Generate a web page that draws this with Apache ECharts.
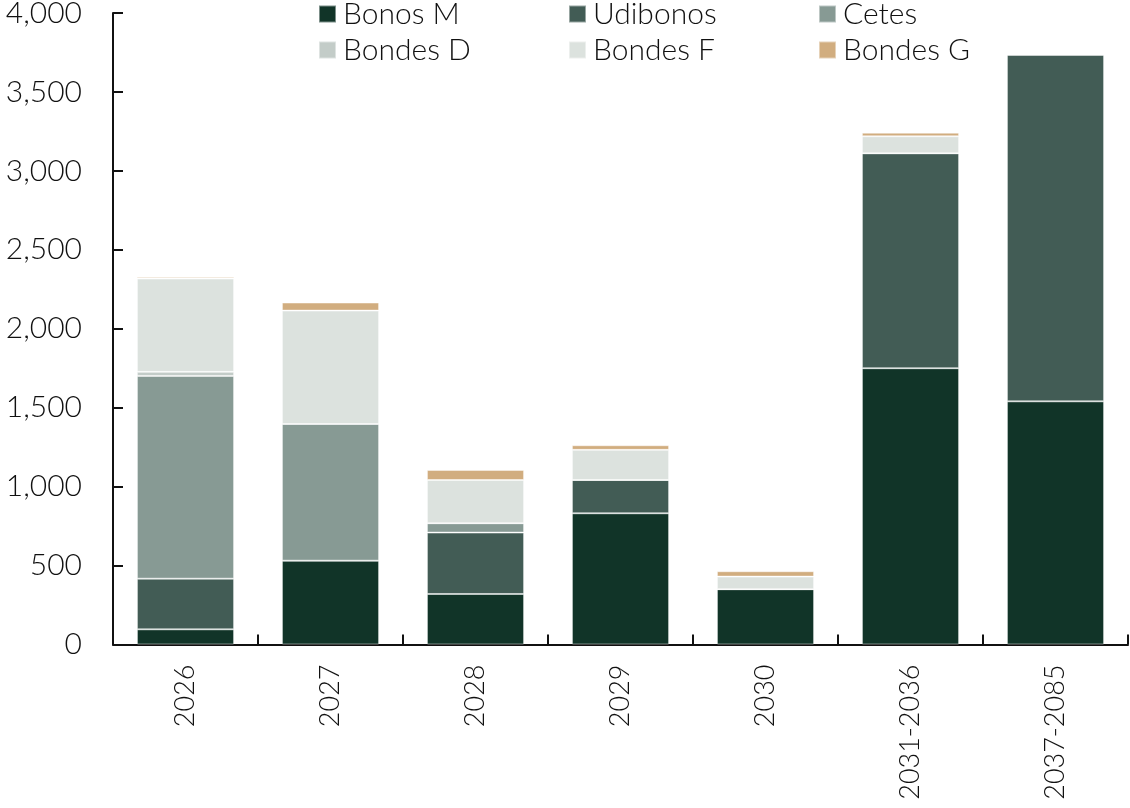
<!DOCTYPE html>
<html><head><meta charset="utf-8">
<script src="https://cdn.jsdelivr.net/npm/echarts@6/dist/echarts.min.js"></script>
<style>html,body{margin:0;padding:0;background:#fff}#c{width:1130px;height:808px}</style>
</head><body><div id="c"></div>
<script>
const categories = ['2026','2027','2028','2029','2030','2031-2036','2037-2085'];
const bonosM   = [96, 531, 320, 831, 350, 1750, 1540];
const udibonos = [321, 0, 389, 211, 0, 1361, 2196];
const cetes    = [1284, 866, 59, 0, 0, 0, 0];
const bondesD  = [26, 0, 0, 0, 0, 0, 0];
const bondesF  = [591, 718, 274, 191, 80, 108, 0];
const bondesG  = [9, 51, 64, 29, 34, 23, 0];
const seriesNames = ['Bonos M','Udibonos','Cetes','Bondes D','Bondes F','Bondes G'];
const yTicks = [0, 500, 1000, 1500, 2000, 2500, 3000, 3500, 4000];

const colors = ['#113428','#425c55','#879a94','#c3ccc8','#dce2de','#d1ad7f'];
const allData = [bonosM, udibonos, cetes, bondesD, bondesF, bondesG];
const font = 'Lato';
const legendPos = [[318,-1],[568,-1],[818,-1],[318,35],[568,35],[818,35]];

const chart = echarts.init(document.getElementById('c'), null, {renderer:'canvas'});
chart.setOption({
  animation:false,
  backgroundColor:'#fff',
  color: colors,
  legend: seriesNames.map((n,i)=>({
    data:[n], left:legendPos[i][0], top:legendPos[i][1], padding:0,
    itemWidth:17, itemHeight:17, itemGap:0, icon:'rect',
    textStyle:{fontFamily:font, fontSize:30, fontWeight:300, color:'#111', padding:[0,0,0,2]}
  })),
  grid:{left:113, right:2, top:13, bottom:163.5, containLabel:false, outerBoundsMode:'none'},
  xAxis:{
    type:'category', data:categories,
    axisLine:{lineStyle:{color:'#111', width:2}},
    axisTick:{show:true, inside:true, length:10, alignWithLabel:false, lineStyle:{color:'#111', width:2}},
    axisLabel:{rotate:90, margin:20, fontFamily:font, fontSize:27, fontWeight:300, color:'#111'}
  },
  yAxis:{
    type:'value', min:0, max:4000, interval:500,
    splitLine:{show:false},
    axisLine:{show:true, lineStyle:{color:'#111', width:2}},
    axisTick:{show:true, inside:true, length:10, lineStyle:{color:'#111', width:2}},
    axisLabel:{margin:31, fontFamily:font, fontSize:30, fontWeight:300, color:'#111',
      formatter:v=> yTicks.includes(v) ? v.toLocaleString('en-US') : ''}
  },
  series: seriesNames.map((n,i)=>({
    name:n, type:'bar', stack:'total', data:allData[i],
    barCategoryGap:'33%',
    itemStyle:{color:colors[i], borderColor:'rgba(255,255,255,0.45)', borderWidth:1}
  }))
});
</script></body></html>
